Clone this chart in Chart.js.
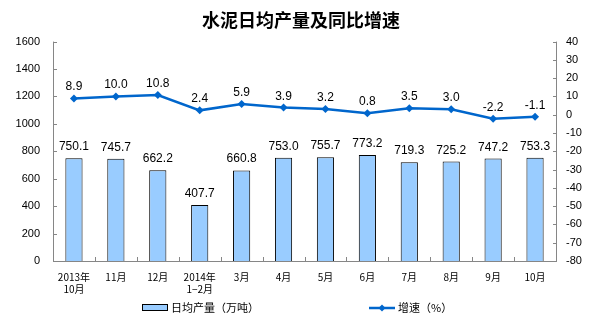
<!DOCTYPE html>
<html>
<head>
<meta charset="utf-8">
<script src="https://cdn.jsdelivr.net/npm/chart.js@4.4.1/dist/chart.umd.min.js"></script>
<style>
  html, body { margin: 0; padding: 0; background: #fff; }
  #wrap { width: 602px; height: 326px; }
</style>
</head>
<body>
<div id="wrap"><canvas id="cement" width="602" height="326"></canvas></div>
<script>
// 月份标签（多行）
const months = [
  ['2013年', '10月'], '11月', '12月', ['2014年', '1−2月'], '3月', '4月',
  '5月', '6月', '7月', '8月', '9月', '10月'
];
// 日均产量（万吨）
const dailyOutput = [750.1, 745.7, 662.2, 407.7, 660.8, 753.0, 755.7, 773.2, 719.3, 725.2, 747.2, 753.3];
// 同比增速（%）
const growthRate = [8.9, 10.0, 10.8, 2.4, 5.9, 3.9, 3.2, 0.8, 3.5, 3.0, -2.2, -1.1];

const leftTicks = { min: 0, max: 1600, step: 200 };
const rightTicks = { min: -80, max: 40, step: 10 };

const FONT = 'Arial, "Liberation Sans", "Noto Sans CJK SC", sans-serif';
const CJK = '"Noto Sans CJK SC", "Liberation Sans", sans-serif';
const BAR_FILL = '#99ccff';
const LINE_COLOR = '#0066cc';
const AXIS_COLOR = '#868686';

function drawDiamond(ctx, x, y, r) {
  ctx.beginPath();
  ctx.moveTo(x, y - r);
  ctx.lineTo(x + r, y);
  ctx.lineTo(x, y + r);
  ctx.lineTo(x - r, y);
  ctx.closePath();
  ctx.fill();
}

// 轴线、向内刻度、数值标签和图例
const decorations = {
  id: 'decorations',
  afterDatasetsDraw(chart) {
    const ctx = chart.ctx;
    const area = chart.chartArea;
    const x = chart.scales.x, y = chart.scales.y, y1 = chart.scales.y1;
    ctx.save();

    // 轴线
    ctx.strokeStyle = AXIS_COLOR;
    ctx.lineWidth = 1;
    ctx.beginPath();
    ctx.moveTo(area.left + 0.5, area.top);
    ctx.lineTo(area.left + 0.5, area.bottom + 0.5);
    ctx.lineTo(area.right + 0.5, area.bottom + 0.5);
    ctx.lineTo(area.right + 0.5, area.top);
    ctx.stroke();

    // 刻度朝内
    ctx.beginPath();
    y.ticks.forEach(t => {
      const py = Math.round(y.getPixelForValue(t.value)) + 0.5;
      ctx.moveTo(area.left, py);
      ctx.lineTo(area.left + 4, py);
    });
    y1.ticks.forEach(t => {
      const py = Math.round(y1.getPixelForValue(t.value)) + 0.5;
      ctx.moveTo(area.right + 1, py);
      ctx.lineTo(area.right - 3, py);
    });
    const half = (x.getPixelForValue(1) - x.getPixelForValue(0)) / 2;
    for (let i = 0; i <= months.length; i++) {
      const px = Math.round(x.getPixelForValue(i) - half) + 0.5;
      ctx.moveTo(px, area.bottom);
      ctx.lineTo(px, area.bottom - 4);
    }
    ctx.stroke();

    // 数值标签
    ctx.fillStyle = '#000';
    ctx.font = '12px ' + FONT;
    ctx.textAlign = 'center';
    ctx.textBaseline = 'alphabetic';
    chart.getDatasetMeta(0).data.forEach((el, i) => {
      ctx.fillText(dailyOutput[i].toFixed(1), el.x, el.y - 8);
    });
    chart.getDatasetMeta(1).data.forEach((el, i) => {
      ctx.fillText(growthRate[i].toFixed(1), el.x, el.y - 8);
    });

    // 图例
    const ly = 308;
    ctx.fillStyle = BAR_FILL;
    ctx.fillRect(142.5, ly - 3.5, 25, 6);
    ctx.strokeStyle = '#000';
    ctx.strokeRect(142.5, ly - 3.5, 25, 6);
    ctx.fillStyle = '#000';
    ctx.font = '11px ' + CJK;
    ctx.textAlign = 'left';
    ctx.textBaseline = 'middle';
    ctx.fillText('日均产量（万吨）', 171, ly);

    ctx.strokeStyle = LINE_COLOR;
    ctx.lineWidth = 2.5;
    ctx.beginPath();
    ctx.moveTo(369, ly);
    ctx.lineTo(395, ly);
    ctx.stroke();
    ctx.fillStyle = LINE_COLOR;
    drawDiamond(ctx, 382, ly, 3.5);
    ctx.fillStyle = '#000';
    ctx.font = '11px ' + CJK;
    ctx.fillText('增速（%）', 398, ly);

    ctx.restore();
  }
};

new Chart(document.getElementById('cement'), {
  data: {
    labels: months,
    datasets: [
      {
        type: 'bar',
        label: '日均产量（万吨）',
        data: dailyOutput,
        yAxisID: 'y',
        backgroundColor: BAR_FILL,
        borderColor: '#000',
        borderWidth: 1,
        categoryPercentage: 0.41,
        barPercentage: 1,
        order: 2
      },
      {
        type: 'line',
        label: '增速（%）',
        data: growthRate,
        yAxisID: 'y1',
        borderColor: LINE_COLOR,
        backgroundColor: LINE_COLOR,
        borderWidth: 2.5,
        pointStyle: 'rectRot',
        pointRadius: 4,
        pointBorderWidth: 0,
        pointBackgroundColor: LINE_COLOR,
        tension: 0,
        order: 1
      }
    ]
  },
  options: {
    responsive: false,
    animation: false,
    events: [],
    layout: { padding: { left: 0, right: 0, top: 0, bottom: 31 } },
    plugins: {
      legend: { display: false },
      tooltip: { enabled: false },
      title: {
        display: true,
        text: '水泥日均产量及同比增速',
        color: '#000',
        font: { family: CJK, size: 18, weight: 'bold', lineHeight: 1.2 },
        padding: { top: 9, bottom: 11 }
      }
    },
    scales: {
      x: {
        offset: true,
        grid: { display: false, drawTicks: false },
        border: { display: false },
        ticks: {
          color: '#000',
          font: { family: CJK, size: 10, lineHeight: 1.2 },
          padding: 10,
          maxRotation: 0,
          autoSkip: false
        },
        afterFit(s) { s.height = 34; }
      },
      y: {
        position: 'left',
        min: leftTicks.min,
        max: leftTicks.max,
        grid: { display: false, drawTicks: false },
        border: { display: false },
        ticks: {
          stepSize: leftTicks.step,
          color: '#000',
          font: { family: FONT, size: 11 },
          padding: 13,
          callback: v => String(v)
        },
        afterFit(s) { s.width = 53; }
      },
      y1: {
        position: 'right',
        min: rightTicks.min,
        max: rightTicks.max,
        grid: { display: false, drawTicks: false },
        border: { display: false },
        ticks: {
          stepSize: rightTicks.step,
          color: '#000',
          font: { family: FONT, size: 11 },
          padding: 10,
          callback: v => String(v)
        },
        afterFit(s) { s.width = 46; }
      }
    }
  },
  plugins: [decorations]
});
</script>
</body>
</html>
